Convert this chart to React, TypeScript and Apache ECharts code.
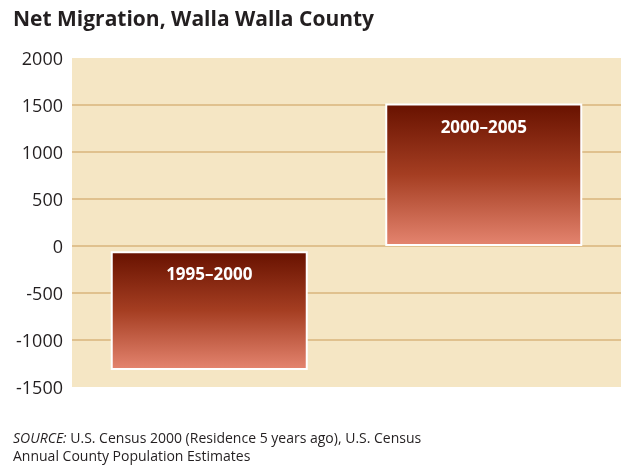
import React, { useEffect, useRef } from "react";
import * as echarts from "echarts";

const categories = ["1995–2000", "2000–2005"];
const barStart = [-55, 0];
const barEnd = [-1320, 1515];
const yMin = -1500;
const yMax = 2000;
const yStep = 500;

const baseValues = barStart;
const spanValues = barEnd.map((v, i) => v - barStart[i]);

export default function App() {
  const ref = useRef<HTMLDivElement>(null);
  useEffect(() => {
    if (!ref.current) return;
    const chart = echarts.init(ref.current, undefined, { renderer: "svg" });
    const nLines = (yMax - yMin) / yStep + 1;
    const lineColors = Array.from({ length: nLines }, (_, i) =>
      i === 0 || i === nLines - 1 ? "rgba(0,0,0,0)" : "#d9b57c"
    );
    chart.setOption({
      animation: false,
      grid: {
        left: 72,
        top: 58,
        width: 549,
        height: 329,
        show: true,
        backgroundColor: "#f5e6c4",
        borderWidth: 0,
        containLabel: false,
      },
      xAxis: {
        type: "category",
        data: categories,
        axisLine: { show: false },
        axisTick: { show: false },
        axisLabel: { show: false },
        splitLine: { show: false },
      },
      yAxis: {
        type: "value",
        min: yMin,
        max: yMax,
        interval: yStep,
        axisLine: { show: false },
        axisTick: { show: false },
        axisLabel: {
          color: "#231f20",
          fontSize: 18,
          fontFamily: "Open Sans",
          margin: 9,
          formatter: (v: number) => String(v),
        },
        splitLine: { show: true, lineStyle: { color: lineColors, width: 1.5 } },
      },
      graphic: [
        {
          type: "text",
          left: 13,
          top: 7,
          style: {
            text: "Net Migration, Walla Walla County",
            font: "bold 21px 'Open Sans'",
            fill: "#231f20",
          },
        },
        {
          type: "text",
          left: 13,
          top: 429,
          style: {
            text: "{i|SOURCE:} U.S. Census 2000 (Residence 5 years ago), U.S. Census",
            font: "14px 'Open Sans'",
            fill: "#231f20",
            lineHeight: 16,
            rich: {
              i: {
                fontStyle: "italic",
                fontSize: 14,
                fontFamily: "Open Sans",
                fill: "#231f20",
                lineHeight: 16,
              },
            },
          },
        },
        {
          type: "text",
          left: 13,
          top: 447,
          style: {
            text: "Annual County Population Estimates",
            font: "14px 'Open Sans'",
            fill: "#231f20",
            lineHeight: 16,
          },
        },
      ],
      series: [
        {
          type: "bar",
          stack: "s",
          data: baseValues,
          barWidth: 197,
          itemStyle: { color: "rgba(0,0,0,0)" },
          silent: true,
        },
        {
          type: "bar",
          stack: "s",
          data: spanValues,
          barWidth: 197,
          itemStyle: {
            borderColor: "#ffffff",
            borderWidth: 2,
            color: new echarts.graphic.LinearGradient(0, 0, 0, 1, [
              { offset: 0, color: "#681200" },
              { offset: 0.5, color: "#a53e22" },
              { offset: 1, color: "#e4846f" },
            ]),
          },
          label: {
            show: true,
            position: "insideTop",
            distance: 14,
            formatter: (p: any) => categories[p.dataIndex],
            color: "#ffffff",
            fontSize: 17,
            fontWeight: "bold",
            fontFamily: "Open Sans",
          },
        },
      ],
    });
    return () => chart.dispose();
  }, []);
  return (
    <div
      ref={ref}
      style={{ position: "fixed", left: 0, top: 0, width: 629, height: 466 }}
    />
  );
}
